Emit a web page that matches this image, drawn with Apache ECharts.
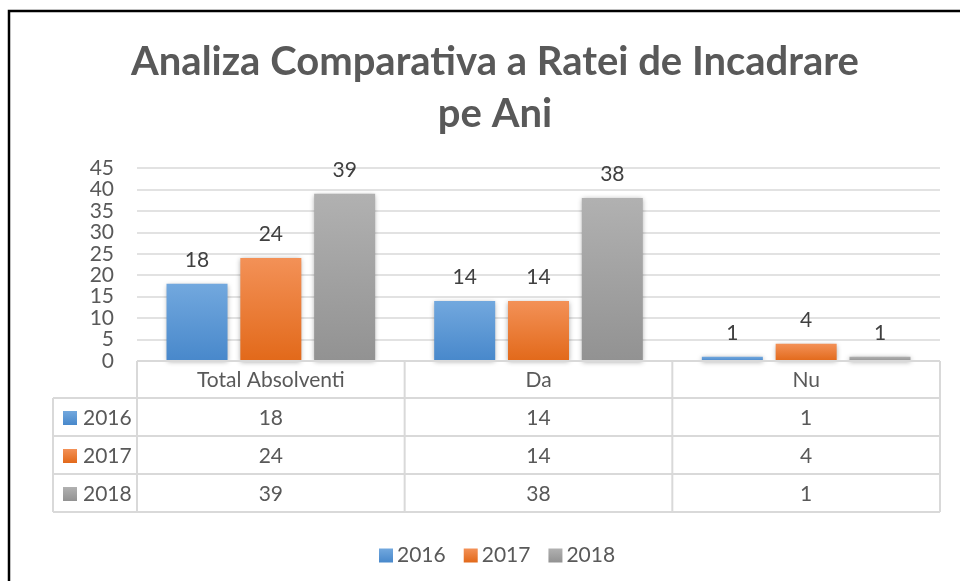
<!DOCTYPE html>
<html>
<head>
<meta charset="utf-8">
<script src="https://cdn.jsdelivr.net/npm/echarts@6/dist/echarts.min.js"></script>
<style>
  html, body { margin: 0; padding: 0; background: #fff; }
  #main { width: 960px; height: 581px; }
</style>
</head>
<body>
<div id="main"></div>
<script>
// data
const categories = ['Total Absolventi', 'Da', 'Nu']
const years = ['2016', '2017', '2018']
const s2016 = [18, 14, 1]
const s2017 = [24, 14, 4]
const s2018 = [39, 38, 1]
const yTicks = [0, 5, 10, 15, 20, 25, 30, 35, 40, 45]

const seriesValues = [s2016, s2017, s2018]
const gradients = [
  ['#72a8de', '#4888cb'],
  ['#f39157', '#e2691a'],
  ['#b1b1b1', '#929292']
]
const FONT = 'Lato'
const FS = 21
const textGray = '#595959'
const lineGray = '#d9d9d9'

function grad (c) {
  return new echarts.graphic.LinearGradient(0, 0, 0, 1, [
    { offset: 0, color: c[0] },
    { offset: 1, color: c[1] }
  ])
}

const chart = echarts.init(document.getElementById('main'))

const option = {
  animation: false,
  textStyle: { fontFamily: FONT },
  title: {
    text: 'Analiza Comparativa a Ratei de Incadrare\npe Ani',
    left: 490,
    top: 31,
    textAlign: 'center',
    textStyle: {
      fontFamily: FONT,
      fontSize: 40,
      fontWeight: 'bold',
      color: textGray,
      lineHeight: 52
    }
  },
  legend: {
    data: years,
    left: 374,
    top: 540,
    icon: 'rect',
    itemWidth: 14,
    itemHeight: 14,
    itemGap: 18,
    textStyle: { fontFamily: FONT, fontSize: FS, color: textGray, padding: [0, 0, 0, -1] }
  },
  grid: {
    left: 137,
    right: 20,
    top: 168,
    bottom: 220
  },
  xAxis: {
    type: 'category',
    data: categories,
    axisLine: { show: false },
    axisTick: { show: false },
    axisLabel: { show: false }
  },
  yAxis: {
    type: 'value',
    min: yTicks[0],
    max: yTicks[yTicks.length - 1],
    interval: 5,
    axisLine: { show: false },
    axisTick: { show: false },
    axisLabel: { fontFamily: FONT, fontSize: FS, color: textGray, margin: 23 },
    splitLine: { lineStyle: { color: lineGray, width: 1.5 } }
  },
  series: years.map((y, i) => ({
    name: y,
    type: 'bar',
    data: seriesValues[i],
    barWidth: 61,
    barGap: '21%',
    itemStyle: {
      color: grad(gradients[i]),
      shadowBlur: 5,
      shadowColor: 'rgba(0,0,0,0.35)',
      shadowOffsetY: 1
    },
    label: {
      show: true,
      position: 'top',
      distance: 13,
      fontFamily: FONT,
      fontSize: FS,
      color: '#404040'
    }
  }))
}
chart.setOption(option)

// data table under the plot, placed from the axis scales
function buildTable () {
  const c0 = chart.convertToPixel({ xAxisIndex: 0 }, 0)
  const c1 = chart.convertToPixel({ xAxisIndex: 0 }, 1)
  const band = c1 - c0
  const xLeft = c0 - band / 2
  const xRight = xLeft + band * categories.length
  const y0 = chart.convertToPixel({ yAxisIndex: 0 }, 0)
  const headH = 37
  const rowH = 38
  const tableLeft = 53
  const yBottom = y0 + headH + rowH * years.length
  const els = []
  const line = (x1, y1, x2, y2) => els.push({
    type: 'line',
    shape: { x1, y1, x2, y2 },
    style: { stroke: lineGray, lineWidth: 2 },
    z: 5
  })
  const text = (x, y, t, align) => els.push({
    type: 'text',
    x, y,
    style: {
      text: t,
      fontFamily: FONT,
      fontSize: FS,
      fill: textGray,
      align: align || 'center',
      verticalAlign: 'middle'
    },
    z: 6
  })

  line(xLeft, y0, xRight, y0)
  for (let r = 0; r <= years.length; r++) {
    const yy = y0 + headH + r * rowH
    line(tableLeft, yy, xRight, yy)
  }
  line(tableLeft, y0 + headH, tableLeft, yBottom)
  for (let k = 0; k <= categories.length; k++) {
    line(xLeft + k * band, y0, xLeft + k * band, yBottom)
  }
  categories.forEach((c, k) => text(xLeft + (k + 0.5) * band, y0 + headH / 2 + 1, c))
  years.forEach((y, r) => {
    const yc = y0 + headH + (r + 0.5) * rowH + 1
    els.push({
      type: 'rect',
      shape: { x: tableLeft + 10, y: yc - 7, width: 14, height: 14 },
      style: { fill: grad(gradients[r]) },
      z: 6
    })
    text(tableLeft + 30, yc, y, 'left')
    seriesValues[r].forEach((v, k) => text(xLeft + (k + 0.5) * band, yc, String(v)))
  })
  // outer frame
  els.push({
    type: 'rect',
    shape: { x: 9, y: 11, width: 1000, height: 700 },
    style: { fill: 'none', stroke: '#000', lineWidth: 2.5 },
    z: 10
  })
  chart.setOption({ graphic: els })
}
buildTable()
</script>
</body>
</html>
